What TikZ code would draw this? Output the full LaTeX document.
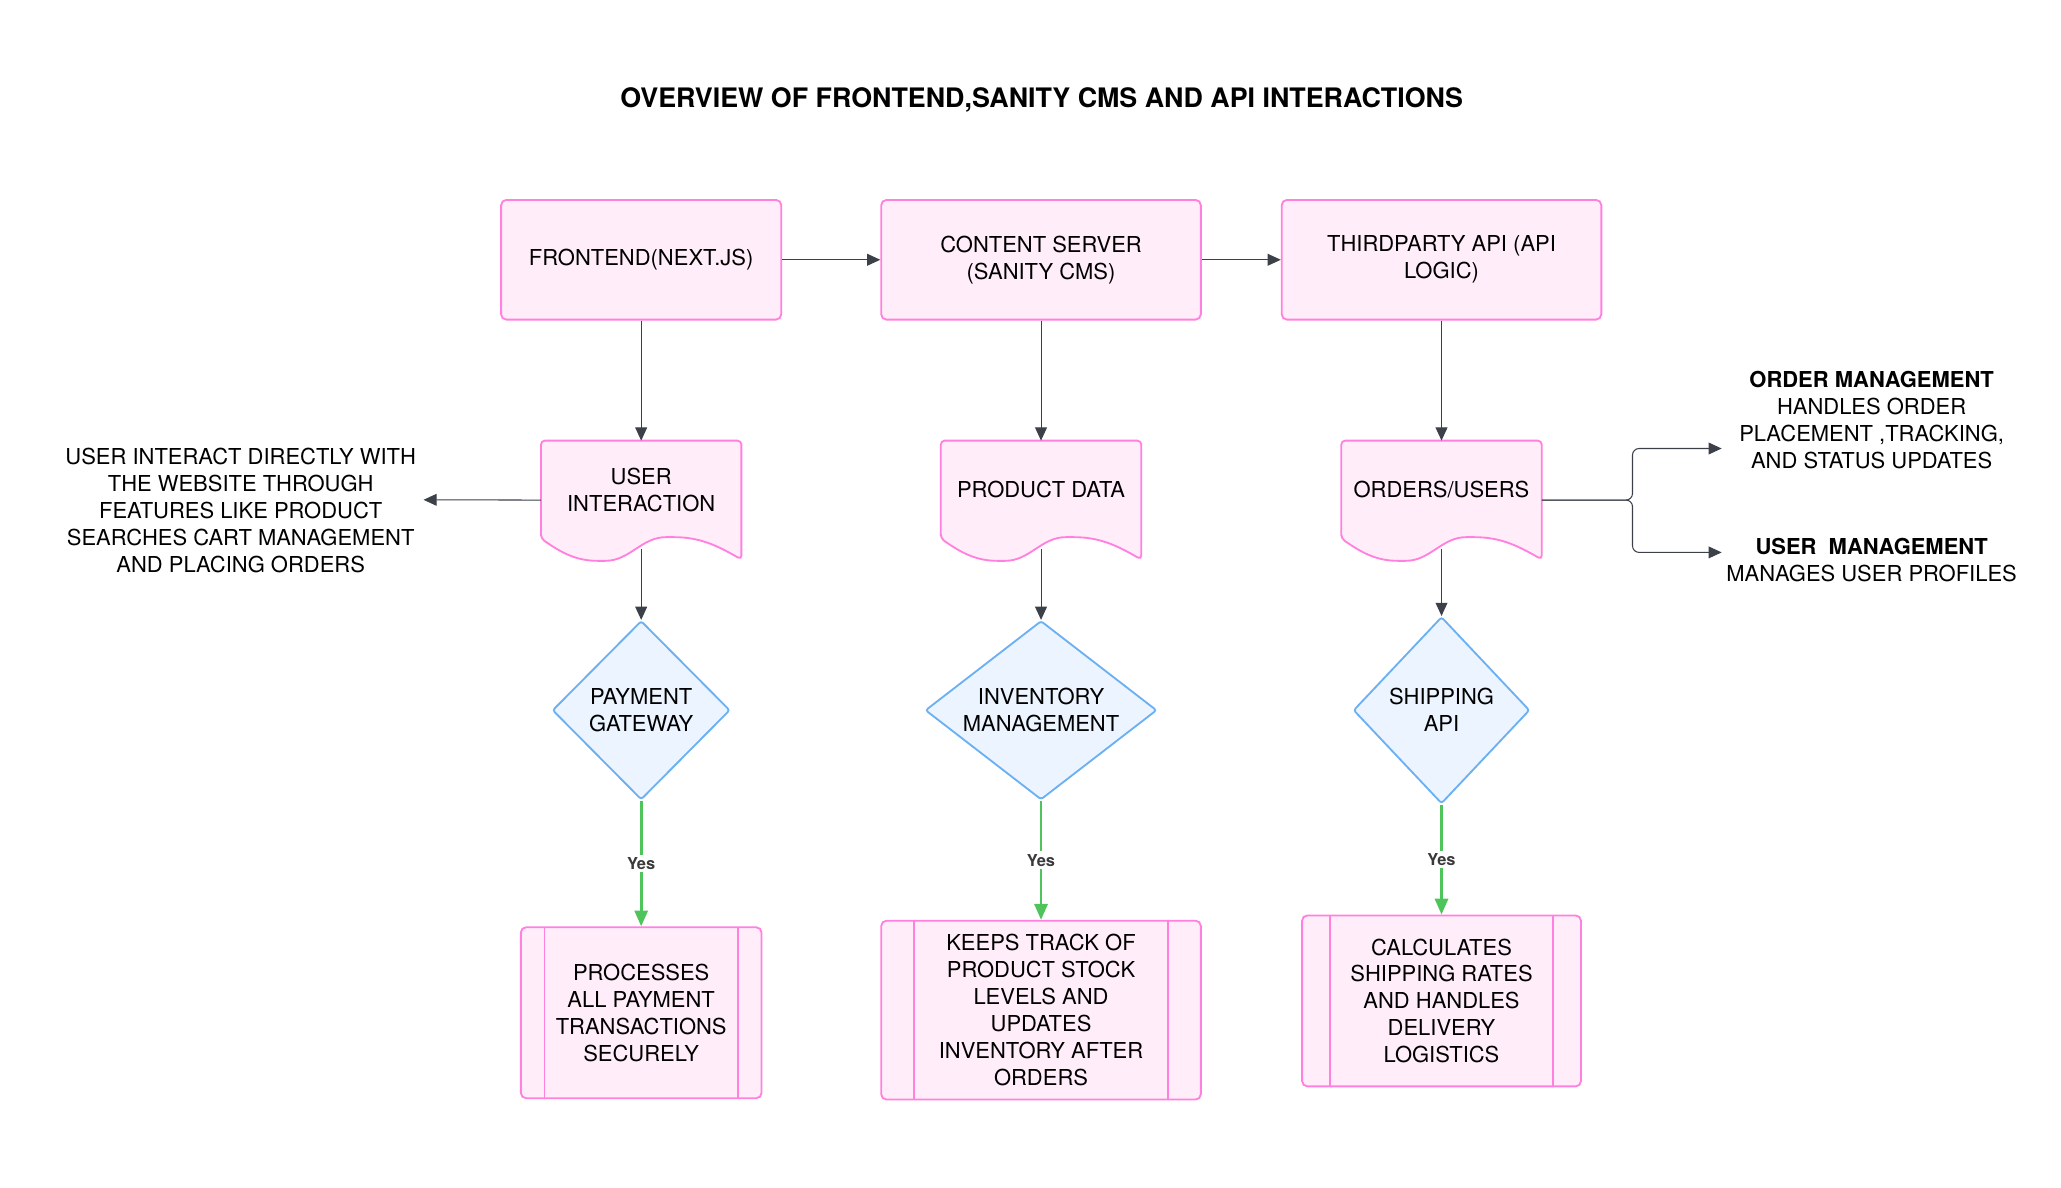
\documentclass[tikz,border=0pt]{standalone}
\usepackage{fontspec}
\setmainfont{TeX Gyre Heros}
\usetikzlibrary{positioning,shapes.geometric,arrows.meta,backgrounds}

\definecolor{boxpink}{HTML}{FF80DF}
\definecolor{boxfill}{HTML}{FFEEF9}
\definecolor{dmdblue}{HTML}{6CB0F4}
\definecolor{dmdfill}{HTML}{EBF4FF}
\definecolor{yesgreen}{HTML}{4FC45A}
\definecolor{linegray}{HTML}{3C4149}
\definecolor{yesgray}{HTML}{3A3A3A}

\begin{document}
\begin{tikzpicture}[x=1pt,y=-1pt,
    font=\fontsize{16.7}{20.5}\selectfont,
    % Styles for the boxes
    box style/.style={rectangle, rounded corners=4pt, draw=boxpink, fill=boxfill, line width=1.4pt, align=center, inner sep=0pt},
    doc style/.style={rectangle, minimum width=152pt, minimum height=74pt, align=center, inner sep=0pt},
    doc line/.style={draw=boxpink, fill=boxfill, line width=1.4pt, rounded corners=3pt},
    decision/.style={diamond, draw=dmdblue, fill=dmdfill, line width=1.4pt, rounded corners=2pt, align=center, inner sep=0pt},
    process/.style={box style, path picture={
        \draw[boxpink, line width=1.4pt] ([xshift=#1]path picture bounding box.north west) -- ([xshift=#1]path picture bounding box.south west);
        \draw[boxpink, line width=1.4pt] ([xshift=-#1]path picture bounding box.north east) -- ([xshift=-#1]path picture bounding box.south east);}},
    note/.style={align=center, inner sep=0pt},
    arrow/.style={draw=linegray, line width=0.8pt, -{Triangle[length=10pt,width=9pt]}},
    yes arrow/.style={draw=yesgreen, line width=2pt, -{Triangle[length=12pt,width=10pt]}},
    yes label/.style={fill=white, text=yesgray, font=\fontsize{12.5}{14}\selectfont\bfseries, inner sep=2pt}
    ]

    \useasboundingbox (0,0) rectangle (1567,903);

    % Title
    \node[font=\fontsize{20.4}{24}\selectfont\bfseries] (title) at (792,76) {OVERVIEW OF FRONTEND,SANITY CMS AND API INTERACTIONS};

    % Top row
    \node[box style, minimum width=213pt, minimum height=91pt] (fe) at (487.5,197.5) {FRONTEND(NEXT.JS)};
    \node[box style, minimum width=243pt, minimum height=91pt] (cs) at (791.5,197.5) {CONTENT SERVER\\(SANITY CMS)};
    \node[box style, minimum width=243pt, minimum height=91pt] (tp) at (1096,197.5) {THIRDPARTY API (API\\LOGIC)};

    % Documents
    \node[doc style, anchor=north] (ui) at (487.5,335) {USER\\INTERACTION};
    \node[doc style, anchor=north] (pd) at (791.5,335) {PRODUCT DATA};
    \node[doc style, anchor=north] (ou) at (1096,335) {ORDERS/USERS};

    \begin{scope}[on background layer]
        \foreach \n in {ui,pd,ou}{
            \draw[doc line] (\n.south west) -- (\n.north west) -- (\n.north east) -- ([yshift=-16pt]\n.south east)
                to[out=150,in=0] ([xshift=98pt,yshift=1pt]\n.south west)
                to[out=180,in=0] ([xshift=46pt,yshift=-17pt]\n.south west)
                to[out=180,in=-35] (\n.south west) -- cycle;
        }
    \end{scope}

    % Decisions
    \node[decision, minimum width=135pt, minimum height=136pt] (pg) at (487.5,540) {PAYMENT\\GATEWAY};
    \node[decision, minimum width=176pt, minimum height=136pt, aspect=1.4] (im) at (791.5,540) {INVENTORY\\MANAGEMENT};
    \node[decision, minimum width=134pt, minimum height=142pt] (sa) at (1096,540) {SHIPPING\\API};

    % Processes
    \node[process=18pt, minimum width=183pt, minimum height=130pt] (pp) at (487.5,770) {PROCESSES\\ALL PAYMENT\\TRANSACTIONS\\SECURELY};
    \node[process=25pt, minimum width=243pt, minimum height=136pt] (kt) at (791.5,768) {KEEPS TRACK OF\\PRODUCT STOCK\\LEVELS AND\\UPDATES\\INVENTORY AFTER\\ORDERS};
    \node[process=21pt, minimum width=212pt, minimum height=130pt] (cr) at (1096,761) {CALCULATES\\SHIPPING RATES\\AND HANDLES\\DELIVERY\\LOGISTICS};

    % Side notes
    \node[note] (uinote) at (183,388) {USER INTERACT DIRECTLY WITH\\THE WEBSITE THROUGH\\FEATURES LIKE PRODUCT\\SEARCHES CART MANAGEMENT\\AND PLACING ORDERS};
    \node[note] (om) at (1423,319.5) {\textbf{ORDER MANAGEMENT}\\HANDLES ORDER\\PLACEMENT ,TRACKING,\\AND STATUS UPDATES};
    \node[note] (um) at (1423,426) {\textbf{USER~~MANAGEMENT}\\MANAGES USER PROFILES};

    \coordinate (uitip) at (322,380);
    \coordinate (omtip) at (1309,341);
    \coordinate (umtip) at (1309,420);

    % --- Connectors ---
    \draw[arrow] (fe) -- (cs);
    \draw[arrow] (cs) -- (tp);
    \draw[arrow] (fe) -- (ui);
    \draw[arrow] (cs) -- (pd);
    \draw[arrow] (tp) -- (ou);
    \draw[arrow] ([yshift=-8pt]ui.south) -- (pg);
    \draw[arrow] ([yshift=-8pt]pd.south) -- (im);
    \draw[arrow] ([yshift=-8pt]ou.south) -- (sa);
    \draw[arrow] ([yshift=-8pt]ui.west) -- (uitip);
    \draw[arrow, rounded corners=5pt] ([yshift=-8pt]ou.east) -- ++(69,0) |- (omtip);
    \draw[arrow, rounded corners=5pt] ([yshift=-8pt]ou.east) -- ++(69,0) |- (umtip);

    \draw[yes arrow] (pg) -- node[yes label] {Yes} (pp);
    \draw[yes arrow] (im) -- node[yes label] {Yes} (kt);
    \draw[yes arrow] (sa) -- node[yes label] {Yes} (cr);

\end{tikzpicture}
\end{document}
